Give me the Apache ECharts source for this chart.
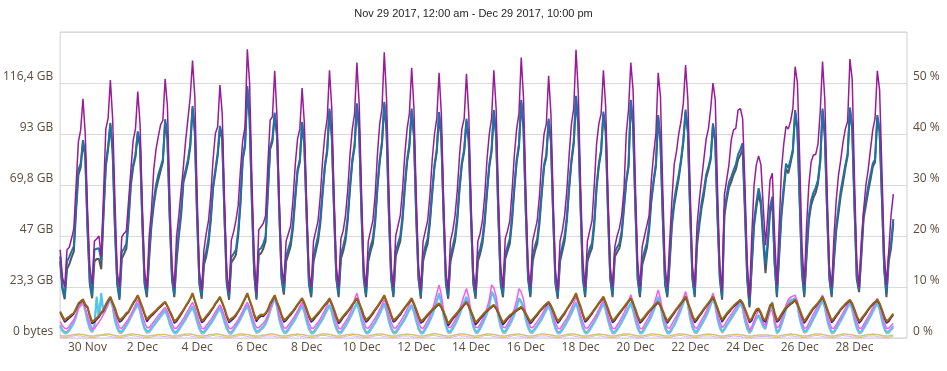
<!DOCTYPE html>
<html><head><meta charset="utf-8">
<script src="https://cdn.jsdelivr.net/npm/echarts/dist/echarts.min.js"></script>
<style>html,body{margin:0;padding:0;background:#fff}#c{width:947px;height:371px}</style>
</head><body><div id="c"></div>
<script>
const titleText = 'Nov 29 2017, 12:00 am - Dec 29 2017, 10:00 pm';
const xTickLabels = ['30 Nov','2 Dec','4 Dec','6 Dec','8 Dec','10 Dec','12 Dec','14 Dec','16 Dec','18 Dec','20 Dec','22 Dec','24 Dec','26 Dec','28 Dec'];
const leftTickLabels = ['0 bytes','23,3 GB','47 GB','69,8 GB','93 GB','116,4 GB'];
const rightTickLabels = ['0 %','10 %','20 %','30 %','40 %','50 %'];
const stepHours = 2; // one sample every 2 hours from Nov 29 00:00

// upper group (percent of right axis)
const purple = [
17.3,12,10,17.3,17.8,19.5,21.5,30,38.5,40.8,46.9,40,
25,14,10.4,19,19.4,20,16,28,41,43,50.6,43,
27,13,10,19.8,20.5,21,27,33,38.8,41,48.3,42,
26,13,9.7,20,25,33,37,39.5,41.8,42.7,50.8,45.4,
28,14,9.8,19.9,24,29,33.6,38.8,43,47.3,54.4,47.3,
28,13,9.4,17.3,20.5,23,28,35,40.1,41.4,49.6,44,
27,13,9,19.2,20.8,23,26,33,38.8,41.4,56.6,50,
31,16,8.8,21.2,21.8,22.5,24,34,42.7,43.4,52.4,43.4,
27,14,10.7,19,20.5,22,27,34,39,41,49,42,
26,13,10,19,21,23,28,35,40,43,52.5,45,
28,14,10,19.5,21,24,29,36,41,44,54,46,
29,14,10,19,21,23,28,36,42,45,56,47,
29,14,10,20,22,24,29,36,41,44,53,45,
28,14,9.5,19,21,23,28,35,40,43,52,44,
27,13,9.5,19,21,24,29,36,41,43,51.8,44,
27,13,9.5,19,20.5,23,28,35,40,43,52.5,45,
28,14,9.8,19.5,21,23,29,36,41,44,55,47,
29,14,10,19,21,23,28,35,40,42,51.4,44,
27,13,9.5,19,21,24,29,36,42,45,56.5,48,
30,15,10,19,21,23,30,38,42,44,52.5,45.3,
28,14,10,17.9,20,21.5,24,29,40,44.7,54,48.6,
30,15,10,17.9,20,22,24,31,36,40.1,52,47.3,
29,14,10,18.6,27,34,36.5,40,42.5,46,53.5,46.7,
29,14,10,22,27,31,35,39,41,45,50,46.7,
29,14,9.4,28,31,34,38.8,40.8,41.1,44.7,45,43,
30,15,7.8,20,30,34,35.7,34,26,18.2,24,31,
32.3,20,10.4,22,33,38,41.5,41,42.5,45,53.2,50,
35,18,10.4,22,30,34.5,35.9,36,38,44.5,54.2,46.7,
29,14,10,19.9,27,32,35,38.5,41,42.5,54.7,50.6,
31,15,10,19,25.1,30,33,37,40.8,43,52.4,48.6,
33,17,10.4,17,24,28.2];

const blue = [
16,10,8.1,15,15.9,17,18,26,33,34.2,38.8,36,
22,11,8.4,17.3,17.5,17.6,15.3,25,34.2,37.5,42.2,37,
22,11,8,16.9,17.5,18.5,24,31,34,36,40.5,38.2,
23,11,8.5,16.7,23,27,30,32,33.5,35,42.9,39.5,
24,12,8.5,16,21,25,31.3,33,35,38,45.5,40.8,
24,11,8.2,15.3,17,19.5,24,30,33,36.2,41.6,39.5,
24,11,8,15.9,16.5,17.3,21,27,35.5,38,49.4,43.4,
27,13,8,17.3,17.6,18.5,19.9,29,37.5,39,44.2,40.1,
25,12,9,16,17.5,19,22.5,28,33,35,42.4,38,
24,11,8.5,16,18,20,23.5,29,34,37,45,40,
25,12,8.5,16.5,18,20,24,30,35,38,46,41,
25,12,8.5,16,18,19.5,23.5,30,35,38.5,46.3,41,
25,12,8.5,17,18.5,20,24,30,35,38,45,40,
24,12,8.2,16,18,19.5,23.5,29,34,37,44.3,39.5,
24,11,8.2,16,18,20,24,30,34.5,37,43,39,
24,11,8.2,16,17.5,19.5,23.5,29,34,37,44.7,40,
24,11,8.5,16.5,18,19.5,24,30,35,38,46.7,41.5,
25,12,8.5,16,18,19.5,23.5,29,34,36,43,39,
24,11,8.2,16,18,20,24,30,35,38.5,47.5,42,
26,12,8.5,16,17.5,18.6,23,30,34.2,37,44.4,40.8,
25,12,8.5,16.9,17.8,18.6,21,26,31,34,46.7,42.1,
26,12,8.5,15.3,17,18.6,22,27.5,31,34.2,43.7,38.8,
24,11,8.5,15.3,23,27,29.7,32,35,38.8,44.8,40.8,
25,12,8.5,19,23,26.5,29,32,33.5,35.5,42.1,38.8,
24,12,8,25,28,30.5,31.6,32.9,34,36,37,38.2,
26,12,6.5,15,23,26.5,29.4,27,20,14.5,19,25.7,
27.7,15,8.5,17,25,29.7,34.2,33.3,35,37,44.7,41.1,
27,13,8.5,17,24,27,28.5,29.5,31,35,45,40,
25,12,8.5,16,22,25.5,29,31.5,34,36.2,45.2,41.4,
26,12,9.5,17,24.4,27,29.7,32,34.2,35,43.7,40.8,
28,14,8.8,16,18.6,23.3];

const darkGray = [
15,9.5,7.6,13.5,14.5,15.8,17,25,32,33.5,38.3,35.5,
21,10.5,7.8,15,15.5,15.5,13.5,24,33.5,37,41.8,36.5,
21.5,10.5,7.5,15.5,16.5,17.5,23,30,33.5,35.5,40,37.5,
22.5,10.5,8,15.5,22,26,29,31,32.8,34.5,42.3,39,
23.5,11.5,8,15,20,24,30.5,32.3,34.3,37.5,45,40.3,
23.5,10.5,7.7,14.3,16,18.5,23,29.3,32.5,35.7,41,39,
23.5,10.5,7.5,14.8,15.5,16.3,20,26.3,35,37.5,48.8,43,
26.5,12.5,7.5,16.3,16.6,17.5,19,28.3,37,38.5,43.7,39.6,
24.5,11.5,8.5,15,16.5,18,21.5,27.3,32.5,34.5,42,37.5,
23.5,10.5,8,15,17,19,22.5,28.3,33.5,36.5,44.5,39.5,
24.5,11.5,8,15.5,17,19,23,29.3,34.5,37.5,45.5,40.5,
24.5,11.5,8,15,17,18.5,22.5,29.3,34.5,38,45.8,40.5,
24.5,11.5,8,16,17.5,19,23,29.3,34.5,37.5,44.5,39.5,
23.5,11.5,7.7,15,17,18.5,22.5,28.3,33.5,36.5,43.8,39,
23.5,10.5,7.7,15,17,19,23,29.3,34,36.5,42.5,38.5,
23.5,10.5,7.7,15,16.5,18.5,22.5,28.3,33.5,36.5,44.2,39.5,
23.5,10.5,8,15.5,17,18.5,23,29.3,34.5,37.5,46.2,41,
24.5,11.5,8,15,17,18.5,22.5,28.3,33.5,35.5,42.5,38.5,
23.5,10.5,7.7,15,17,19,23,29.3,34.5,38,47,41.5,
25.5,11.5,8,15,16.5,17.6,22,29.3,33.7,36.5,43.9,40.3,
24.5,11.5,8,15.9,16.8,17.6,20,25.3,30.5,33.5,46.2,41.6,
25.5,11.5,8,14.3,16,17.6,21,26.8,30.5,33.7,43.2,38.3,
23.5,10.5,8,14.3,22,26,28.7,31.3,34.5,38.3,44.3,40.3,
24.5,11.5,8,18,22,25.5,28,31.3,33,35,41.6,38.3,
23.5,11.5,7.5,24,27,29.5,30.6,32,33,35,35.9,37,
24.5,11.5,6,14,22,25.5,28.4,26,19,12.7,18,24.7,
26.7,14.5,8,16,24,28.7,33.2,32.3,34.3,36.5,44.2,40.6,
26.5,12.5,8,16,23,26,27.5,28.5,30.3,34.5,44.5,39.5,
24.5,11.5,8,15,21,24.5,28,30.5,33.3,35.7,44.7,40.9,
25.5,11.5,9,16,23.4,26,28.7,31,33.5,34.5,43.2,40.3,
27.5,13.5,8,15,17.6,22.5];

// lower group (percent of right axis)
const brown = [
5.2,4.3,3.5,3.9,4.2,4.6,4.9,5.8,6.8,7.2,7.6,6.6,
6.1,4.5,3.2,3.5,3.9,4.4,5.0,5.5,6.6,7.4,8.1,7.0,
5.9,4.5,3.5,3.8,4.3,4.9,5.2,6.1,6.9,7.6,8.4,7.3,
6.1,4.8,3.6,4.2,4.6,5.0,5.4,5.9,6.3,6.7,7.1,6.3,
5.3,4.4,3.3,3.6,4.2,4.9,5.5,6.3,7.0,7.8,8.8,7.4,
6.0,4.6,3.4,3.7,4.3,4.8,5.4,6.0,6.8,7.4,8.1,7.0,
5.8,4.4,3.4,3.8,4.1,4.6,5.3,6.0,6.9,7.8,8.8,7.5,
6.2,4.7,3.6,4.3,4.6,4.5,4.9,5.6,6.8,7.6,8.4,7.1,
6.0,4.6,3.5,3.8,4.3,4.8,5.3,5.9,6.6,7.2,7.8,6.9,
5.7,4.4,3.5,3.9,4.4,4.9,5.4,6.0,6.6,7.1,7.8,6.8,
5.6,4.3,3.2,3.7,4.3,4.8,5.3,5.9,6.6,7.2,7.8,6.9,
5.8,4.5,3.5,3.9,4.4,5.0,5.6,6.2,6.9,7.6,8.4,7.2,
6.0,4.6,3.5,3.8,4.3,4.8,5.4,6.0,6.6,7.2,7.8,6.8,
5.6,4.4,3.3,3.6,4.1,4.6,5.1,5.6,6.0,6.4,6.8,6.1,
5.2,4.1,2.8,3.4,4.0,4.5,5.0,5.6,6.1,6.6,7.1,6.3,
5.3,4.2,3.0,3.5,4.0,4.5,5.0,5.4,5.8,6.2,6.5,5.9,
5.0,4.0,3.0,3.5,4.0,4.5,4.8,5.2,5.5,5.8,6.1,5.6,
4.8,4.0,3.2,3.7,4.2,4.7,5.3,5.8,6.3,6.7,7.1,6.4,
5.4,4.3,3.3,3.8,4.4,5.0,5.7,6.4,7.1,7.9,8.8,7.4,
6.2,4.7,3.5,3.9,4.4,5.0,5.6,6.2,6.9,7.5,8.1,7.0,
5.8,4.5,3.4,3.8,4.4,5.0,5.5,6.1,6.7,7.3,7.8,6.9,
5.7,4.4,3.3,3.7,4.2,4.8,5.3,5.8,6.3,6.7,7.1,6.4,
5.4,4.3,3.3,3.9,4.5,5.1,5.7,6.3,6.9,7.5,8.1,7.0,
5.8,4.5,3.4,3.9,4.5,5.1,5.7,6.3,6.9,7.5,8.1,7.1,
5.9,4.6,3.5,4.2,4.8,5.3,5.8,6.3,6.7,7.1,7.5,6.9,
5.8,4.6,3.4,3.8,4.8,5.6,5.8,5.0,3.8,3.5,5.0,6.4,
6.8,5.0,3.5,3.9,4.7,5.4,6.0,6.4,6.8,7.1,7.5,6.8,
5.6,4.4,3.3,3.9,4.6,5.3,5.9,6.4,6.9,7.5,8.1,7.1,
5.8,4.6,3.4,3.9,4.5,5.1,5.7,6.2,6.7,7.1,7.5,6.8,
5.6,4.4,3.3,3.8,4.4,5.0,5.6,6.2,6.7,7.1,7.5,6.8,
5.6,4.3,3.3,3.6,4.2,4.8];

const indigo = [
5.0,4.0,3.1,3.5,3.9,4.3,4.7,5.6,6.6,7.0,7.5,6.4,
5.9,4.2,2.8,3.1,3.6,4.1,4.8,5.3,6.4,7.2,7.9,6.8,
5.7,4.2,3.1,3.4,4.0,4.6,5.0,5.9,6.7,7.4,8.2,7.1,
5.9,4.5,3.2,3.8,4.3,4.7,5.2,5.7,6.1,6.5,7.0,6.1,
5.1,4.1,2.9,3.2,3.9,4.6,5.3,6.1,6.8,7.6,8.6,7.2,
5.8,4.3,3.0,3.3,4.0,4.5,5.2,5.8,6.6,7.2,7.9,6.8,
5.6,4.1,3.0,3.4,3.8,4.3,5.1,5.8,6.7,7.6,8.6,7.3,
6.0,4.4,3.2,3.9,4.3,4.2,4.7,5.4,6.6,7.4,8.2,6.9,
5.8,4.3,3.1,3.4,4.0,4.5,5.1,5.7,6.4,7.0,7.6,6.7,
5.5,4.1,3.1,3.5,4.1,4.6,5.2,5.8,6.4,6.9,7.6,6.6,
5.4,4.0,2.8,3.3,4.0,4.5,5.1,5.7,6.4,7.0,7.6,6.7,
5.6,4.2,3.1,3.5,4.1,4.7,5.4,6.0,6.7,7.4,8.2,7.0,
5.8,4.3,3.1,3.4,4.0,4.5,5.2,5.8,6.4,7.0,7.6,6.6,
5.4,4.1,2.9,3.2,3.8,4.3,4.9,5.4,5.8,6.2,6.6,5.9,
5.0,3.8,2.4,3.0,3.7,4.2,4.8,5.4,5.9,6.4,6.9,6.1,
5.1,3.9,2.6,3.1,3.7,4.2,4.8,5.2,5.6,6.0,6.3,5.7,
4.8,3.7,2.6,3.1,3.7,4.2,4.6,5.0,5.3,5.6,5.9,5.4,
4.6,3.7,2.8,3.3,3.9,4.4,5.1,5.6,6.1,6.5,6.9,6.2,
5.2,4.0,2.9,3.4,4.1,4.7,5.5,6.2,6.9,7.7,8.6,7.2,
6.0,4.4,3.1,3.5,4.1,4.7,5.4,6.0,6.7,7.3,7.9,6.8,
5.6,4.2,3.0,3.4,4.1,4.7,5.3,5.9,6.5,7.1,7.6,6.7,
5.5,4.1,2.9,3.3,3.9,4.5,5.1,5.6,6.1,6.5,6.9,6.2,
5.2,4.0,2.9,3.5,4.2,4.8,5.5,6.1,6.7,7.3,7.9,6.8,
5.6,4.2,3.0,3.5,4.2,4.8,5.5,6.1,6.7,7.3,7.9,6.9,
5.7,4.3,3.1,3.8,4.5,5.0,5.6,6.1,6.5,6.9,7.3,6.7,
5.6,4.3,3.0,3.4,4.5,5.3,5.6,4.8,3.5,3.1,4.7,6.2,
6.6,4.7,3.1,3.5,4.4,5.1,5.8,6.2,6.6,6.9,7.3,6.6,
5.4,4.1,2.9,3.5,4.3,5.0,5.7,6.2,6.7,7.3,7.9,6.9,
5.6,4.3,3.0,3.5,4.2,4.8,5.5,6.0,6.5,6.9,7.3,6.6,
5.4,4.1,2.9,3.4,4.1,4.7,5.4,6.0,6.5,6.9,7.3,6.6,
5.4,4.0,2.9,3.2,3.9,4.5];

const magenta = [
3.2,2.4,1.9,1.8,2.3,3.0,3.6,4.6,5.8,6.5,7.0,5.8,
4.4,3.0,1.8,1.8,2.5,3.1,3.8,4.7,5.7,6.9,8.0,6.7,
4.8,3.2,2.0,1.9,2.5,3.1,3.8,4.6,5.5,6.5,7.5,6.3,
4.5,3.1,2.0,2.0,2.6,3.2,3.8,4.4,4.9,5.5,6.0,5.2,
4.0,2.8,1.9,1.9,2.5,3.1,3.8,4.6,5.4,6.2,7.0,6.0,
4.5,3.0,1.9,1.8,2.4,3.0,3.6,4.3,5.1,5.8,6.5,5.6,
4.3,3.0,1.9,1.8,2.3,2.9,3.6,4.4,5.3,6.2,7.0,6.0,
4.5,3.1,2.0,2.0,2.5,2.9,3.5,4.5,5.8,7.0,8.4,6.8,
4.6,3.2,2.0,1.9,2.5,3.1,3.8,4.5,5.3,6.2,7.0,6.0,
4.4,3.0,1.9,1.9,2.5,3.1,3.8,4.6,5.5,6.5,7.5,6.4,
4.6,3.1,1.9,1.8,2.5,3.2,3.9,4.8,6.0,7.6,8.8,7.2,
5.0,3.3,2.0,1.9,2.5,3.2,3.9,4.7,5.6,6.6,7.5,6.4,
4.6,3.1,2.0,1.9,2.5,3.2,3.9,4.7,5.6,6.6,7.5,6.4,
4.6,3.1,2.0,1.9,2.6,3.4,4.3,5.5,7.0,8.8,10.4,8.5,
5.4,3.5,2.1,2.0,2.7,3.5,4.4,5.6,7.0,8.4,9.7,8.0,
5.2,3.4,2.1,2.0,2.7,3.6,4.6,5.9,7.5,10.4,9.8,8.2,
5.3,3.5,2.1,2.0,2.7,3.5,4.5,5.8,7.4,9.7,9.0,7.5,
4.8,3.3,2.1,2.0,2.6,3.2,3.9,4.6,5.4,6.2,7.0,6.0,
4.4,3.0,1.9,1.8,2.5,3.2,3.9,4.8,5.8,6.9,8.0,6.7,
4.6,3.1,2.0,1.9,2.5,3.2,3.9,4.7,5.6,6.6,7.5,6.4,
4.5,3.0,1.9,1.8,2.5,3.2,4.0,4.9,6.0,7.2,8.5,7.0,
4.7,3.1,1.9,1.8,2.6,3.4,4.2,5.2,6.4,7.9,9.4,7.7,
5.0,3.3,2.0,1.9,2.7,3.5,4.3,5.3,6.5,7.8,9.1,7.5,
4.9,3.2,2.0,1.9,2.7,3.5,4.3,5.2,6.3,7.5,8.8,7.3,
4.8,3.2,2.0,2.5,3.3,4.0,4.6,5.3,6.0,6.8,7.5,6.6,
4.5,3.0,1.6,2.2,3.4,4.5,5.5,4.6,3.0,2.4,4.0,5.5,
5.2,3.4,2.0,2.3,3.6,5.0,6.5,7.5,8.0,8.2,8.4,7.2,
4.8,3.2,1.9,2.0,2.9,3.8,4.7,5.5,6.4,7.4,8.4,7.0,
4.7,3.1,1.9,1.9,2.6,3.4,4.2,5.0,5.8,6.7,7.5,6.4,
4.6,3.1,1.9,1.9,2.6,3.4,4.2,5.0,5.9,6.9,7.8,6.6,
4.7,3.1,1.9,1.9,2.4,2.9];

const skyBlue = [
2.5,1.6,1.2,1.2,1.7,2.4,3.2,4.4,6.1,6.6,7.1,5.6,
3.5,2.0,1.4,2.5,8.1,4.2,8.8,5.0,5.8,6.8,7.8,6.3,
3.6,2.1,1.3,1.3,1.9,2.6,3.4,4.3,5.2,6.0,6.8,5.5,
3.4,2.0,1.3,1.4,2.0,2.6,3.2,3.8,4.4,5.0,5.5,4.5,
3.0,1.9,1.2,1.2,1.8,2.5,3.2,3.9,4.7,5.5,6.2,5.0,
3.4,2.0,1.2,1.2,1.8,2.4,3.0,3.7,4.5,5.3,6.0,4.9,
3.3,2.0,1.2,1.1,1.7,2.4,3.1,3.9,4.8,5.7,6.5,5.2,
3.6,2.1,1.3,1.4,1.9,2.3,2.9,4.0,5.5,6.8,8.1,6.3,
3.8,2.2,1.3,1.2,1.8,2.5,3.2,3.9,4.8,5.7,6.5,5.3,
3.4,2.0,1.2,1.2,1.8,2.5,3.2,3.9,4.8,5.7,6.5,5.3,
3.4,2.0,1.2,1.2,1.8,2.5,3.3,4.1,5.0,6.0,7.0,5.6,
3.6,2.1,1.2,1.2,1.8,2.5,3.2,4.0,4.9,5.9,6.8,5.5,
3.5,2.0,1.2,1.2,1.8,2.5,3.2,3.9,4.8,5.7,6.5,5.3,
3.5,2.0,1.2,1.2,1.9,2.7,3.6,4.6,5.9,7.4,8.8,7.0,
4.5,2.5,1.3,1.3,2.0,2.8,3.7,4.8,6.0,7.1,8.1,6.6,
4.2,2.4,1.3,1.3,2.0,2.9,3.9,5.0,6.4,9.1,8.4,7.0,
4.3,2.4,1.3,1.3,2.0,2.8,3.7,4.8,6.1,7.8,7.2,6.0,
3.8,2.2,1.3,1.3,1.9,2.5,3.2,3.9,4.8,5.7,6.5,5.3,
3.5,2.0,1.2,1.2,1.8,2.5,3.3,4.1,5.0,6.0,7.0,5.6,
3.7,2.1,1.2,1.2,1.8,2.5,3.3,4.1,5.0,6.0,7.0,5.6,
3.7,2.1,1.2,1.2,1.8,2.5,3.3,4.1,5.0,6.0,7.0,5.6,
3.7,2.1,1.2,1.2,1.9,2.7,3.5,4.4,5.5,6.8,8.1,6.5,
3.9,2.2,1.2,1.2,1.9,2.7,3.6,4.6,5.7,7.0,8.4,6.7,
4.0,2.3,1.3,1.3,2.0,2.8,3.6,4.5,5.5,6.7,8.0,6.5,
3.9,2.2,1.3,1.8,2.6,3.3,4.0,4.7,5.4,6.2,7.0,6.0,
3.6,2.0,1.2,1.8,3.0,4.0,4.5,3.6,2.4,2.0,4.0,5.5,
7.1,3.0,1.2,1.6,2.8,4.2,5.8,7.0,7.5,7.6,7.8,6.5,
4.0,2.3,1.3,1.5,2.2,3.0,3.9,4.8,5.7,6.6,7.5,6.2,
3.8,2.2,1.2,1.3,2.0,2.8,3.6,4.4,5.3,6.2,7.0,5.8,
3.7,2.1,1.2,1.3,2.0,2.8,3.6,4.4,5.3,6.2,7.0,5.8,
3.7,2.1,1.2,1.3,1.8,2.4];

const lightGray = [
2.2,1.3,0.9,0.9,1.4,2.1,2.9,4.1,5.8,6.3,6.8,5.3,
3.2,1.7,1.1,2.2,7.5,3.9,8.0,4.7,5.5,6.5,7.5,6.0,
3.3,1.8,1.0,1.0,1.6,2.3,3.1,4.0,4.9,5.7,6.5,5.2,
3.1,1.7,1.0,1.1,1.7,2.3,2.9,3.5,4.1,4.7,5.2,4.2,
2.7,1.6,0.9,0.9,1.5,2.2,2.9,3.6,4.4,5.2,5.9,4.7,
3.1,1.7,0.9,0.9,1.5,2.1,2.7,3.4,4.2,5.0,5.7,4.6,
3.0,1.7,0.9,0.8,1.4,2.1,2.8,3.6,4.5,5.4,6.2,4.9,
3.3,1.8,1.0,1.1,1.6,2.0,2.6,3.7,5.2,6.5,7.8,6.0,
3.5,1.9,1.0,0.9,1.5,2.2,2.9,3.6,4.5,5.4,6.2,5.0,
3.1,1.7,0.9,0.9,1.5,2.2,2.9,3.6,4.5,5.4,6.2,5.0,
3.1,1.7,0.9,0.9,1.5,2.2,3.0,3.8,4.7,5.7,6.7,5.3,
3.3,1.8,0.9,0.9,1.5,2.2,2.9,3.7,4.6,5.6,6.5,5.2,
3.2,1.7,0.9,0.9,1.5,2.2,2.9,3.6,4.5,5.4,6.2,5.0,
3.2,1.7,0.9,0.9,1.6,2.4,3.3,4.3,5.6,7.1,8.5,6.7,
4.2,2.2,1.0,1.0,1.7,2.5,3.4,4.5,5.7,6.8,7.8,6.3,
3.9,2.1,1.0,1.0,1.7,2.6,3.6,4.7,6.1,8.8,8.1,6.7,
4.0,2.1,1.0,1.0,1.7,2.5,3.4,4.5,5.8,7.5,6.9,5.7,
3.5,1.9,1.0,1.0,1.6,2.2,2.9,3.6,4.5,5.4,6.2,5.0,
3.2,1.7,0.9,0.9,1.5,2.2,3.0,3.8,4.7,5.7,6.7,5.3,
3.4,1.8,0.9,0.9,1.5,2.2,3.0,3.8,4.7,5.7,6.7,5.3,
3.4,1.8,0.9,0.9,1.5,2.2,3.0,3.8,4.7,5.7,6.7,5.3,
3.4,1.8,0.9,0.9,1.6,2.4,3.2,4.1,5.2,6.5,7.8,6.2,
3.6,1.9,0.9,0.9,1.6,2.4,3.3,4.3,5.4,6.7,8.1,6.4,
3.7,2.0,1.0,1.0,1.7,2.5,3.3,4.2,5.2,6.4,7.7,6.2,
3.6,1.9,1.0,1.5,2.3,3.0,3.7,4.4,5.1,5.9,6.7,5.7,
3.3,1.7,0.9,1.5,2.7,3.7,4.2,3.3,2.1,1.7,3.7,5.2,
6.8,2.7,0.9,1.3,2.5,3.9,5.5,6.7,7.2,7.3,7.5,6.2,
3.7,2.0,1.0,1.2,1.9,2.7,3.6,4.5,5.4,6.3,7.2,5.9,
3.5,1.9,0.9,1.0,1.7,2.5,3.3,4.1,5.0,5.9,6.7,5.5,
3.4,1.8,0.9,1.0,1.7,2.5,3.3,4.1,5.0,5.9,6.7,5.5,
3.4,1.8,0.9,1.0,1.5,2.1];

const tan = [
0.5,0.4,0.4,0.4,0.5,0.6,0.7,0.7,0.8,0.7,0.7,0.6,
0.5,0.4,0.4,0.4,0.5,0.6,0.6,0.7,0.8,0.8,0.7,0.6,
0.5,0.4,0.4,0.4,0.5,0.6,0.7,0.8,0.8,0.7,0.7,0.6,
0.5,0.4,0.4,0.4,0.5,0.5,0.6,0.7,0.7,0.7,0.7,0.6,
0.5,0.4,0.4,0.4,0.5,0.6,0.7,0.8,0.8,0.8,0.7,0.6,
0.5,0.4,0.4,0.4,0.5,0.6,0.7,0.7,0.8,0.8,0.7,0.6,
0.5,0.4,0.4,0.4,0.5,0.6,0.7,0.8,0.8,0.7,0.7,0.6,
0.5,0.4,0.4,0.4,0.5,0.6,0.6,0.7,0.8,0.8,0.7,0.6,
0.5,0.4,0.4,0.4,0.5,0.6,0.7,0.7,0.8,0.7,0.7,0.6,
0.5,0.4,0.4,0.4,0.5,0.6,0.7,0.8,0.8,0.8,0.7,0.6,
0.5,0.4,0.4,0.4,0.5,0.6,0.7,0.7,0.8,0.7,0.7,0.6,
0.5,0.4,0.4,0.4,0.5,0.6,0.7,0.8,0.8,0.8,0.7,0.6,
0.5,0.4,0.4,0.4,0.5,0.6,0.7,0.7,0.8,0.7,0.7,0.6,
0.5,0.4,0.4,0.4,0.5,0.6,0.7,0.8,0.9,0.8,0.7,0.6,
0.5,0.4,0.4,0.4,0.5,0.6,0.7,0.8,0.8,0.8,0.7,0.6,
0.5,0.4,0.4,0.4,0.5,0.6,0.7,0.8,0.8,0.7,0.7,0.6,
0.5,0.4,0.4,0.4,0.5,0.6,0.7,0.7,0.8,0.8,0.7,0.6,
0.5,0.4,0.4,0.4,0.5,0.6,0.7,0.8,0.8,0.7,0.7,0.6,
0.5,0.4,0.4,0.4,0.5,0.6,0.7,0.8,0.8,0.8,0.7,0.6,
0.5,0.4,0.4,0.4,0.5,0.6,0.7,0.7,0.8,0.7,0.7,0.6,
0.5,0.4,0.4,0.4,0.5,0.6,0.7,0.8,0.8,0.8,0.7,0.6,
0.5,0.4,0.4,0.4,0.5,0.6,0.7,0.8,0.8,0.7,0.7,0.6,
0.5,0.4,0.4,0.4,0.5,0.6,0.7,0.8,0.8,0.8,0.7,0.6,
0.5,0.4,0.4,0.4,0.5,0.6,0.7,0.7,0.8,0.7,0.7,0.6,
0.5,0.4,0.4,0.4,0.5,0.6,0.6,0.7,0.7,0.7,0.6,0.6,
0.5,0.4,0.4,0.4,0.5,0.5,0.6,0.6,0.6,0.6,0.6,0.5,
0.5,0.4,0.4,0.4,0.5,0.6,0.7,0.7,0.8,0.7,0.7,0.6,
0.5,0.4,0.4,0.4,0.5,0.6,0.7,0.8,0.8,0.8,0.7,0.6,
0.5,0.4,0.4,0.4,0.5,0.6,0.7,0.8,0.8,0.7,0.7,0.6,
0.5,0.4,0.4,0.4,0.5,0.6,0.7,0.7,0.8,0.7,0.7,0.6,
0.5,0.4,0.4,0.4,0.5,0.5];

const lavender = [
0.2,0.1,0.1,0.1,0.2,0.3,0.4,0.5,0.4,0.4,0.3,0.2,
0.2,0.1,0.1,0.1,0.2,0.4,0.5,0.5,0.5,0.4,0.3,0.2,
0.2,0.1,0.1,0.1,0.2,0.3,0.4,0.5,0.4,0.4,0.3,0.2,
0.2,0.1,0.1,0.1,0.2,0.3,0.4,0.4,0.4,0.3,0.3,0.2,
0.2,0.1,0.1,0.1,0.2,0.3,0.5,0.5,0.5,0.4,0.3,0.2,
0.2,0.1,0.1,0.1,0.2,0.3,0.4,0.5,0.4,0.4,0.3,0.2,
0.2,0.1,0.1,0.1,0.2,0.3,0.4,0.5,0.5,0.4,0.3,0.2,
0.2,0.1,0.1,0.1,0.2,0.3,0.4,0.4,0.4,0.4,0.3,0.2,
0.2,0.1,0.1,0.1,0.2,0.3,0.4,0.5,0.4,0.4,0.3,0.2,
0.2,0.1,0.1,0.1,0.2,0.3,0.5,0.5,0.5,0.4,0.3,0.2,
0.2,0.1,0.1,0.1,0.2,0.3,0.4,0.5,0.4,0.4,0.3,0.2,
0.2,0.1,0.1,0.1,0.2,0.3,0.4,0.5,0.5,0.4,0.3,0.2,
0.2,0.1,0.1,0.1,0.2,0.3,0.4,0.4,0.4,0.4,0.3,0.2,
0.2,0.1,0.1,0.1,0.2,0.3,0.4,0.5,0.5,0.4,0.3,0.2,
0.2,0.1,0.1,0.1,0.2,0.3,0.4,0.5,0.4,0.4,0.3,0.2,
0.2,0.1,0.1,0.1,0.2,0.3,0.5,0.5,0.5,0.4,0.3,0.2,
0.2,0.1,0.1,0.1,0.2,0.3,0.4,0.5,0.4,0.4,0.3,0.2,
0.2,0.1,0.1,0.1,0.2,0.3,0.4,0.4,0.4,0.4,0.3,0.2,
0.2,0.1,0.1,0.1,0.2,0.3,0.4,0.5,0.5,0.4,0.3,0.2,
0.2,0.1,0.1,0.1,0.2,0.3,0.4,0.5,0.4,0.4,0.3,0.2,
0.2,0.1,0.1,0.1,0.2,0.3,0.5,0.5,0.5,0.4,0.3,0.2,
0.2,0.1,0.1,0.1,0.2,0.3,0.4,0.5,0.4,0.4,0.3,0.2,
0.2,0.1,0.1,0.1,0.2,0.3,0.4,0.5,0.5,0.4,0.3,0.2,
0.2,0.1,0.1,0.1,0.2,0.3,0.4,0.4,0.4,0.4,0.3,0.2,
0.2,0.1,0.1,0.1,0.2,0.3,0.3,0.4,0.4,0.3,0.3,0.2,
0.2,0.1,0.1,0.1,0.2,0.2,0.3,0.3,0.3,0.3,0.3,0.2,
0.2,0.1,0.1,0.1,0.2,0.3,0.4,0.5,0.4,0.4,0.3,0.2,
0.2,0.1,0.1,0.1,0.2,0.3,0.4,0.5,0.5,0.4,0.3,0.2,
0.2,0.1,0.1,0.1,0.2,0.3,0.4,0.5,0.4,0.4,0.3,0.2,
0.2,0.1,0.1,0.1,0.2,0.3,0.4,0.4,0.4,0.4,0.3,0.2,
0.2,0.1,0.1,0.1,0.2,0.3];

const LEFT_STEP = 23.28;
const labelColor = '#5b4b3e';
const pts = arr => arr.map((v, i) => [i * stepHours, v]);
function line(name, data, color, width) {
  return { name, type: 'line', yAxisIndex: 1, data: pts(data), showSymbol: false, symbol: 'none',
    lineStyle: { color, width }, itemStyle: { color }, emphasis: { disabled: true } };
}
const chart = echarts.init(document.getElementById('c'), null, { renderer: 'canvas' });
chart.setOption({
  animation: false,
  backgroundColor: '#fff',
  title: { text: titleText, left: 'center', top: 3,
    textStyle: { fontSize: 11, fontWeight: 'normal', color: '#1e1e1e', fontFamily: 'Liberation Sans' } },
  grid: { left: 55, right: 40, top: 32, bottom: 33, show: true, borderColor: '#cfcfcf', borderWidth: 1 },
  xAxis: { type: 'value', min: 0, max: 742, interval: 24,
    axisLine: { show: false }, axisTick: { show: false }, splitLine: { show: false },
    axisLabel: { color: labelColor, fontSize: 12, fontFamily: 'Open Sans', margin: 4, showMaxLabel: false, showMinLabel: false,
      formatter: v => { const k = (v - 24) / 48; return (Number.isInteger(k) && k >= 0 && k < xTickLabels.length) ? xTickLabels[k] : ''; } } },
  yAxis: [
    { type: 'value', min: 0, max: LEFT_STEP * 6, interval: LEFT_STEP, position: 'left',
      axisLine: { show: false }, axisTick: { show: false },
      splitLine: { lineStyle: { color: '#d9d9d9', width: 1 } },
      axisLabel: { color: labelColor, fontSize: 12, fontFamily: 'Open Sans', margin: 7, verticalAlign: 'bottom', lineHeight: 12,
        formatter: v => leftTickLabels[Math.round(v / LEFT_STEP)] || '' } },
    { type: 'value', min: 0, max: 60, interval: 10, position: 'right',
      axisLine: { show: false }, axisTick: { show: false }, splitLine: { show: false },
      axisLabel: { color: labelColor, fontSize: 12, fontFamily: 'Open Sans', margin: 6, verticalAlign: 'bottom', lineHeight: 12,
        formatter: v => rightTickLabels[Math.round(v / 10)] || '' } }
  ],
  series: [
    line('lavender', lavender, '#d2b0e6', 1),
    line('tan', tan, '#d9c07a', 1.5),
    line('light gray', lightGray, '#b8b8b8', 2),
    line('sky blue', skyBlue, '#4cc7ee', 2),
    line('magenta', magenta, '#f45cf4', 1.5),
    line('indigo', indigo, '#3a2276', 1.5),
    line('brown', brown, '#9a640e', 2),
    line('dark gray', darkGray, '#555555', 2),
    line('blue', blue, '#1b74a6', 2),
    line('purple', purple, '#9a1a9a', 1.5)
  ]
});
</script>
</body></html>
